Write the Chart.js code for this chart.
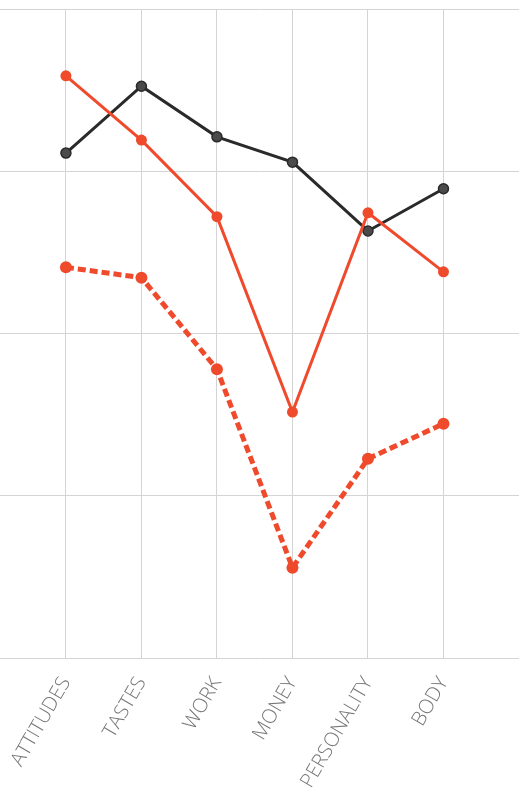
<!DOCTYPE html>
<html>
<head>
<meta charset="utf-8">
<script src="https://cdn.jsdelivr.net/npm/chart.js@4"></script>
<style>
  html, body { margin: 0; padding: 0; background: #fff; }
  #wrap { width: 519px; height: 789px; position: relative; }
</style>
</head>
<body>
<div id="wrap"><canvas id="chart"></canvas></div>
<script>
var categories = ["ATTITUDES", "TASTES", "WORK", "MONEY", "PERSONALITY", "BODY"];
var blackValues = [77.8, 88.1, 80.3, 76.4, 65.8, 72.3];
var redValues = [89.7, 79.8, 68.0, 37.9, 68.6, 59.5];
var redDashedValues = [60.2, 58.6, 44.5, 13.9, 30.7, 36.1];
var yTicks = [0, 25, 50, 75, 100];

function points(values) {
    return values.map(function (v, i) { return { x: i, y: v }; });
}

var red = "#ef4a2c";
var ctx = document.getElementById("chart").getContext("2d");
var myChart = new Chart(ctx, {
    type: "line",
    data: {
        datasets: [{
            data: points(redDashedValues),
            borderColor: red,
            backgroundColor: red,
            borderWidth: 5,
            borderDash: [8, 4],
            pointRadius: 6,
            pointBorderWidth: 0,
            fill: false
        }, {
            data: points(redValues),
            borderColor: red,
            backgroundColor: red,
            borderWidth: 3,
            pointRadius: 5.5,
            pointBorderWidth: 0,
            fill: false
        }, {
            data: points(blackValues),
            borderColor: "#2a2a2a",
            backgroundColor: "#4a4a4a",
            borderWidth: 3,
            pointRadius: 5,
            pointBorderWidth: 1.5,
            fill: false
        }]
    },
    options: {
        responsive: true,
        maintainAspectRatio: false,
        animation: false,
        layout: { autoPadding: false, padding: { top: 9, right: 0, left: 0, bottom: 0 } },
        plugins: {
            legend: { display: false },
            tooltip: { enabled: false },
            title: { display: false }
        },
        scales: {
            x: {
                type: "linear",
                min: -0.873,
                max: 6,
                afterBuildTicks: function (axis) {
                    axis.ticks = categories.map(function (c, i) { return { value: i }; });
                },
                afterFit: function (axis) {
                    axis.paddingLeft = 0;
                    axis.paddingRight = 0;
                    axis.height = 131;
                },
                grid: { color: "#d4d4d4", lineWidth: 1, drawTicks: false },
                border: { display: false },
                ticks: {
                    autoSkip: false,
                    maxRotation: 60,
                    minRotation: 60,
                    padding: 15,
                    color: "#767676",
                    font: { family: "Open Sans", size: 20, weight: 300 },
                    callback: function (value) { return categories[value]; }
                }
            },
            y: {
                min: 0,
                max: 100,
                afterBuildTicks: function (axis) {
                    axis.ticks = yTicks.map(function (v) { return { value: v }; });
                },
                afterFit: function (axis) {
                    axis.width = 0;
                },
                grid: { color: "#d4d4d4", lineWidth: 1, drawTicks: false },
                border: { display: false },
                ticks: { display: false }
            }
        }
    }
});
</script>
</body>
</html>
